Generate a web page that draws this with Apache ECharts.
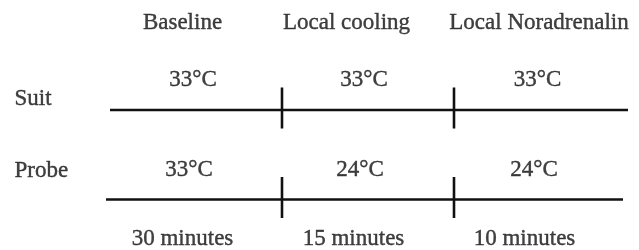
<!DOCTYPE html>
<html>
<head>
<meta charset="utf-8">
<script src="https://cdn.jsdelivr.net/npm/echarts@6/dist/echarts.min.js"></script>
<style>
  html, body { margin: 0; padding: 0; background: #fff; }
  #chart { width: 639px; height: 250px; }
</style>
</head>
<body>
<div id="chart"></div>
<script>
// schematic layout units (x across, y down)
const phases = ['Baseline', 'Local cooling', 'Local Noradrenalin'];
const phaseX = [183, 347, 539.5];
const durations = ['30 minutes', '15 minutes', '10 minutes'];
const durationX = [183, 354, 525];
const rows = ['Suit', 'Probe'];
const rowLabelY = [99, 171.5];
const rowLineY = [110, 199.5];
const rowLineStart = [110, 106];
const rowLineEnd = [628, 623];
const suitTemps = ['33°C', '33°C', '33°C'];
const suitTempX = [193.5, 364.5, 538];
const probeTemps = ['33°C', '24°C', '24°C'];
const probeTempX = [189.5, 360.5, 534.5];
const boundaries = [282, 454];

const textSeries = (items, y, align) => ({
  type: 'scatter',
  symbolSize: 1,
  silent: true,
  itemStyle: { color: 'transparent' },
  data: items.map(d => ({ value: [d[1], y], name: d[0] })),
  label: {
    show: true,
    position: [0, 0],
    align: align || 'center',
    verticalAlign: 'middle',
    formatter: p => p.name,
    fontFamily: 'Liberation Serif',
    fontSize: 23,
    color: '#111',
    textBorderColor: '#111',
    textBorderWidth: 0.4
  }
});

const zip = (a, b) => a.map((v, i) => [v, b[i]]);

const lineSeries = rows.map((r, i) => ({
  type: 'line',
  symbol: 'none',
  silent: true,
  data: [[rowLineStart[i], rowLineY[i]], [rowLineEnd[i], rowLineY[i]]],
  lineStyle: { color: '#111', width: 2.6 }
}));

// vertical marks where one phase ends and the next starts
const tickData = [];
boundaries.forEach(x => {
  rowLineY.forEach(y => {
    tickData.push([x, y - 22.5], [x, y + 18.5], [null, null]);
  });
});

const chart = echarts.init(document.getElementById('chart'));
chart.setOption({
  animation: false,
  textStyle: { fontFamily: 'Liberation Serif' },
  grid: { left: 0, right: 0, top: 0, bottom: 0 },
  xAxis: { type: 'value', min: 0, max: 639, show: false },
  yAxis: { type: 'value', min: 0, max: 250, inverse: true, show: false },
  series: [
    ...lineSeries,
    {
      type: 'line',
      symbol: 'none',
      silent: true,
      connectNulls: false,
      data: tickData,
      lineStyle: { color: '#111', width: 2.6 }
    },
    textSeries(zip(phases, phaseX), 23),
    textSeries(zip(suitTemps, suitTempX), 80),
    textSeries([[rows[0], 15]], rowLabelY[0], 'left'),
    textSeries([[rows[1], 15]], rowLabelY[1], 'left'),
    textSeries(zip(probeTemps, probeTempX), 170),
    textSeries(zip(durations, durationX), 239.5)
  ]
});
</script>
</body>
</html>
